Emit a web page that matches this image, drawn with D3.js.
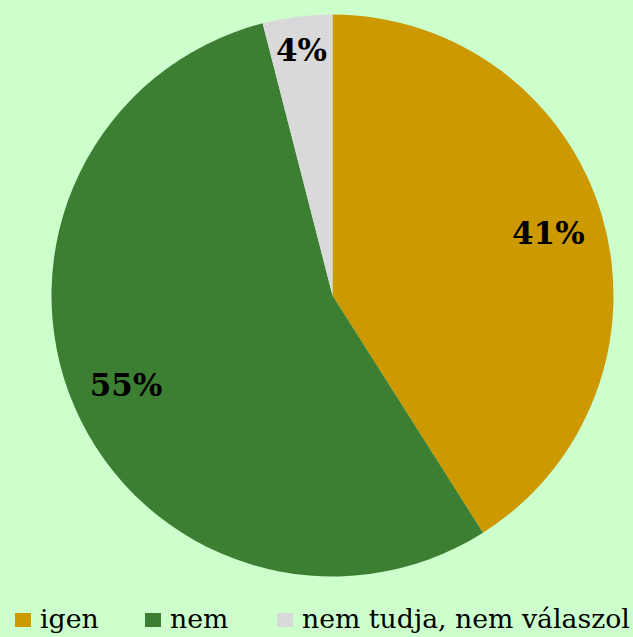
<!DOCTYPE html>
<html>
<head>
<meta charset="utf-8">
<script src="https://cdn.jsdelivr.net/npm/d3@7"></script>
<style>
  html, body { margin: 0; padding: 0; background: #CCFFCC; }
  svg { display: block; }
  .pct, .legend text { font-family: 'DejaVu Serif', 'Noto Serif', serif; }
  .pct { font-weight: bold; }
</style>
</head>
<body>
<svg id="chart" width="633" height="637"></svg>
<script>
// Survey answers and their shares (percent)
const categories = ["igen", "nem", "nem tudja, nem válaszol"];
const values = [41, 55, 4];
const colors = ["#CC9900", "#3D7F32", "#D9D9D9"];

const W = 633, H = 637;
const cx = 332.5, cy = 295.5, R = 281;

const svg = d3.select("#chart");
svg.append("rect").attr("width", W).attr("height", H).attr("fill", "#CCFFCC");

const data = categories.map((c, i) => ({ name: c, value: values[i], color: colors[i] }));

const pie = d3.pie().value(d => d.value).sort(null);
const arc = d3.arc().innerRadius(0).outerRadius(R);
const arcs = pie(data);

const g = svg.append("g").attr("transform", `translate(${cx},${cy})`);

g.selectAll("path.slice")
  .data(arcs)
  .join("path")
  .attr("class", "slice")
  .attr("d", arc)
  .attr("fill", d => d.data.color);

// Percentage labels: placed inside each slice, pushed toward the rim
const pad = 18;
const labels = g.selectAll("text.pct")
  .data(arcs)
  .join("text")
  .attr("class", "pct")
  .attr("font-size", 31)
  .attr("fill", "#000")
  .attr("text-anchor", "middle")
  .attr("dominant-baseline", "central")
  .text(d => d.data.value + "%");

labels.each(function(d) {
  const bb = this.getBBox();
  const hw = bb.width / 2, hh = 12;
  const a = (d.startAngle + d.endAngle) / 2;
  const ux = Math.sin(a), uy = -Math.cos(a);
  const ext = hw * Math.abs(ux) + hh * Math.abs(uy);
  const dist = R - pad - ext;
  d3.select(this).attr("x", ux * dist).attr("y", uy * dist);
});

// Legend along the bottom edge
const legendX = [15, 145, 277];
const legend = svg.append("g").attr("class", "legend");
const items = legend.selectAll("g")
  .data(data)
  .join("g")
  .attr("transform", (d, i) => `translate(${legendX[i]},0)`);

items.append("rect")
  .attr("x", 0).attr("y", 613)
  .attr("width", 16).attr("height", 14)
  .attr("fill", d => d.color);

const legendText = items.append("text")
  .attr("x", 25).attr("y", 628)
  .attr("font-size", 24)
  .attr("fill", "#000")
  .text(d => d.name);

// Size the legend type so the longest entry ends near the right edge
const longest = legendText.filter((d, i) => i === categories.length - 1).node();
const w24 = longest.getComputedTextLength();
const target = W - 3 - (legendX[categories.length - 1] + 25);
legendText.attr("font-size", 24 * target / w24);
</script>
</body>
</html>
